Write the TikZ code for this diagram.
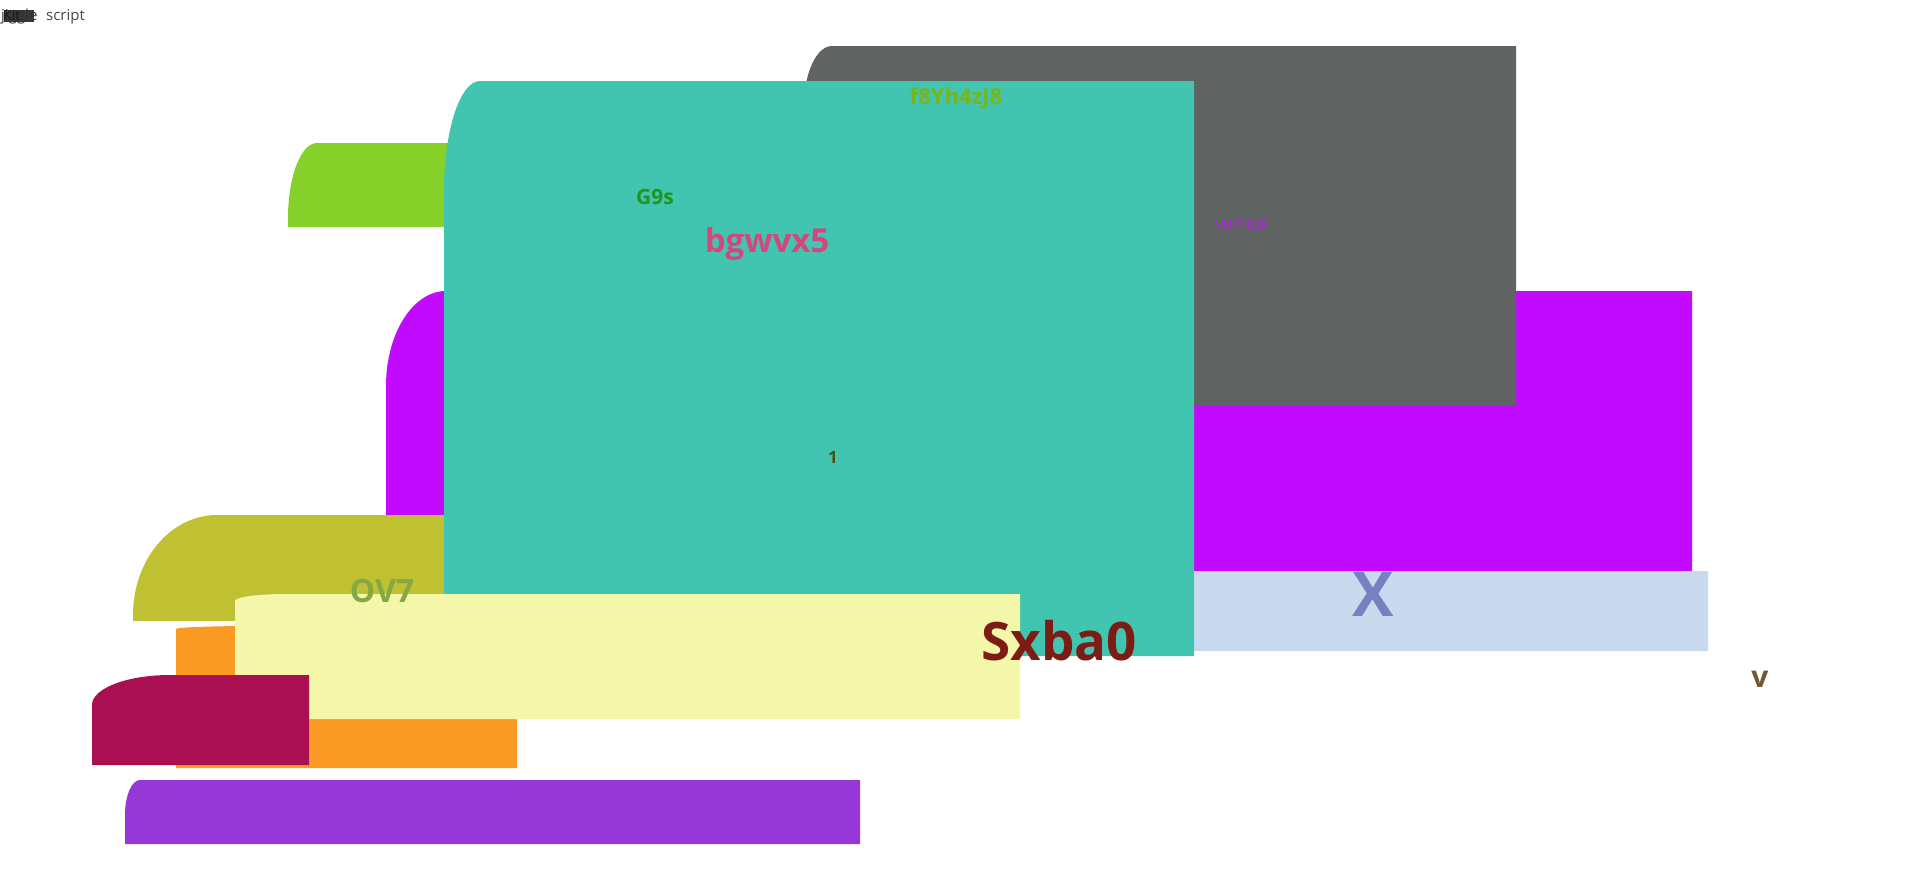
\documentclass[tikz,border=0pt]{standalone}
\usepackage{fontspec}
\usepackage{tikz}
\setmainfont{Open Sans}

\definecolor{lime}{HTML}{87D22A}
\definecolor{lightblue}{HTML}{C9D9EE}
\definecolor{magenta}{HTML}{C10AFF}
\definecolor{slate}{HTML}{5F6361}
\definecolor{olive}{HTML}{BFC032}
\definecolor{teal}{HTML}{42C5B0}
\definecolor{orange}{HTML}{FB9A22}
\definecolor{paleyellow}{HTML}{F4F6AA}
\definecolor{crimson}{HTML}{AA0F52}
\definecolor{violet}{HTML}{9637D8}
\definecolor{xcol}{HTML}{7880C0}
\definecolor{fcol}{HTML}{78B41E}
\definecolor{gcol}{HTML}{1E961E}
\definecolor{bcol}{HTML}{D8457C}
\definecolor{vucol}{HTML}{B31EE6}
\definecolor{onecol}{HTML}{4B5014}
\definecolor{ocol}{HTML}{86A844}
\definecolor{scol}{HTML}{7D1C14}
\definecolor{vcol}{HTML}{6E5A32}

% box with a rounded top left corner: fill, x1, y1, x2, y2, rx, ry
\newcommand{\cornerbox}[7]{\fill[#1] (#2,#5) -- (#2,#3+#7) arc[start angle=180,end angle=270,x radius=#6,y radius=#7] -- (#4,#3) -- (#4,#5) -- cycle;}
\newcommand{\fs}[1]{\fontsize{#1}{#1}\selectfont}

\begin{document}
\begin{tikzpicture}[x=1pt,y=-1pt,
	lbl/.style={anchor=base,inner sep=0pt,font=\bfseries}]
	\useasboundingbox (0,0) rectangle (1920,870);

	% top left words
	\fill[black!78] (4,10) rectangle (34,22);
	\node (w1) at (1,20) [anchor=base west,inner sep=0pt,text=black!80]{\fs{15}jiggle};
	\node (w2) at (3,20) [anchor=base west,inner sep=0pt,text=black!90]{\fs{14}Kit};
	\node (w3) at (46,20) [anchor=base west,inner sep=0pt,text=black!72]{\fs{15}script};

	\cornerbox{lime}{288}{143}{500}{227}{29}{75}
	\cornerbox{lightblue}{1170}{571}{1708}{651}{40}{4}
	\node (lX) at (1373,616) [lbl,text=xcol]{\fs{62}X};
	\cornerbox{magenta}{386}{291}{1692}{571}{60}{95}
	\cornerbox{slate}{804}{46}{1516}{405}{28}{60}
	\cornerbox{olive}{133}{515}{480}{621}{84}{100}
	\cornerbox{teal}{444}{81}{1194}{656}{36}{110}
	\cornerbox{orange}{176}{626}{517}{768}{80}{3}
	\cornerbox{paleyellow}{235}{594}{1020}{719}{50}{7}
	\cornerbox{crimson}{92}{675}{309}{765}{78}{30}
	\cornerbox{violet}{125}{780}{860}{844}{15}{35}

	\node (lf) at (956,104) [lbl,text=fcol]{\fs{22}f8Yh4zJ8};
	\node (lG) at (655,204) [lbl,text=gcol]{\fs{21}G9s};
	\node (lb) at (767,252) [lbl,text=bcol]{\fs{33}bgwvx5};
	\node (lvU) at (1242,229) [anchor=base,inner sep=0pt,text=vucol]{\fs{13}vU7YIOF};
	\node (l1) at (833,463) [lbl,text=onecol]{\fs{17}1};
	\node (lO) at (382,602) [lbl,text=ocol]{\fs{32}OV7};
	\node (lS) at (1059,660) [lbl,text=scol]{\fs{53}Sxba0};
	\node (lv) at (1760,687) [lbl,text=vcol]{\fs{30}v};
\end{tikzpicture}
\end{document}
